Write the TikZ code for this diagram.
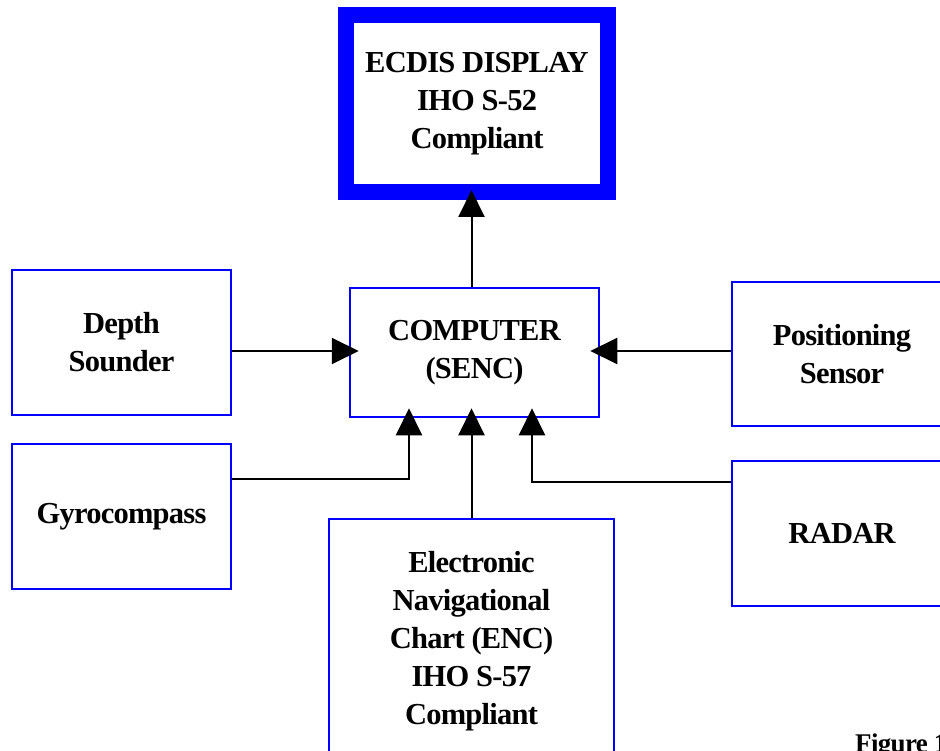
\documentclass[tikz,border=0pt]{standalone}
\usepackage{fontspec}
\setmainfont{Liberation Serif}[LetterSpace=-2.5]
\usetikzlibrary{arrows.meta}
\definecolor{boxblue}{RGB}{0,0,255}
\tikzset{
  blk/.style={draw=boxblue, line width=2.5pt, align=center, inner sep=0pt,
    font=\fontsize{30.5}{38}\selectfont\bfseries, text=black},
  arr/.style={draw=black, line width=2pt, -{Triangle[length=27pt,width=26pt]}, shorten >=-10pt},
}
\begin{document}
\begin{tikzpicture}[x=1pt,y=-1pt]
\useasboundingbox[fill=white] (0,0) rectangle (940,751);
\node[blk, line width=16pt, minimum width=262pt, minimum height=177pt] (ecdis) at (477,103.5) {ECDIS DISPLAY\\IHO S-52\\Compliant};
\node[blk, minimum width=249pt, minimum height=129pt] (comp) at (474.5,352.5) {COMPUTER\\(SENC)};
\node[blk, minimum width=219pt, minimum height=145pt] (depth) at (121.5,342.5) {Depth\\Sounder};
\node[blk, minimum width=219pt, minimum height=145pt] (gyro) at (121.5,516.5) {Gyrocompass};
\node[blk, minimum width=285pt, minimum height=245pt] (enc) at (471.5,641.5) {Electronic\\Navigational\\Chart (ENC)\\IHO S-57\\Compliant};
\node[blk, minimum width=220pt, minimum height=144pt] (pos) at (842,354) {Positioning\\Sensor};
\node[blk, minimum width=220pt, minimum height=145pt] (radar) at (842,533.5) {RADAR};
\node[anchor=base west, inner sep=0pt, font=\fontsize{27}{32}\selectfont\bfseries] (fig) at (855,752) {Figure 1};
\draw[arr] ([xshift=-3pt]comp.north) -- ([xshift=-3pt]comp.north |- ecdis.south);
\draw[arr] ([yshift=-8.5pt]depth.east) -- ([yshift=-8.5pt]depth.east -| comp.west);
\draw[arr] ([yshift=3pt]pos.west) -- ([yshift=3pt]pos.west -| comp.east);
\draw[arr] ([yshift=37.5pt]gyro.east) -| ([xshift=-65.5pt]comp.south);
\draw[arr] (enc.north) -- (enc.north |- comp.south);
\draw[arr] ([yshift=51.5pt]radar.west) -| ([xshift=57.5pt]comp.south);
\end{tikzpicture}
\end{document}
